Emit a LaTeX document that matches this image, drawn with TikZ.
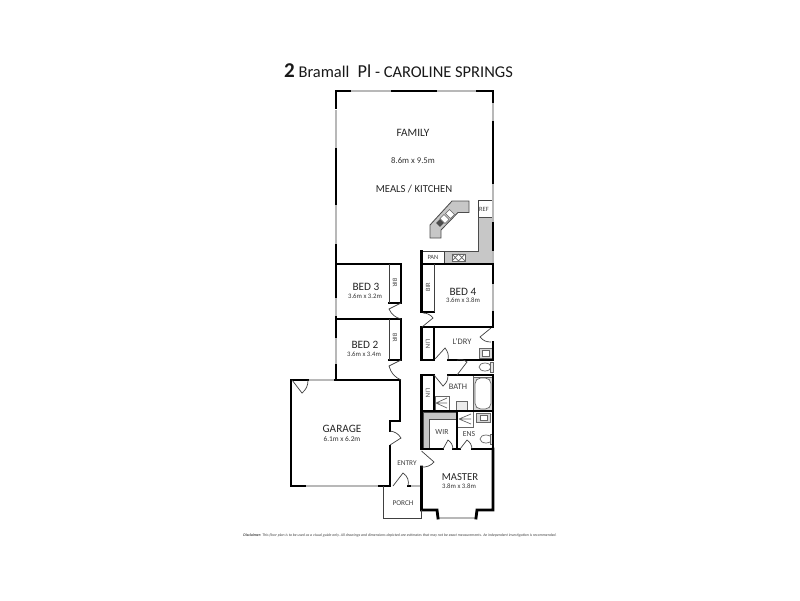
\documentclass[tikz,border=0pt]{standalone}
\usepackage{fontspec}
\setmainfont{Carlito}
\usepackage{tikz}
\usetikzlibrary{positioning}
\tikzset{
  wall/.style={draw=black,line width=2pt,line cap=rect,line join=miter},
  thinwall/.style={draw=black!75,line width=0.7pt},
  window/.style={draw=black!28,line width=1.8pt},
  doorleaf/.style={draw=black!75,line width=0.5pt},
  fitting/.style={draw=black!60,line width=0.5pt},
  bench/.style={draw=black!70,fill=black!22,line width=0.6pt},
  roomname/.style={inner sep=0pt,font=\fontsize{8}{8}\selectfont,text=black!85},
  roomsize/.style={inner sep=0pt,font=\fontsize{4.8}{4.8}\selectfont,text=black!80},
  smalllabel/.style={inner sep=0pt,font=\fontsize{4.6}{4.6}\selectfont,text=black!75}
}
\begin{document}
\begin{tikzpicture}[x=0.025cm,y=-0.025cm]
    \useasboundingbox (0,0) rectangle (800,600);

    % kitchen fittings
    \draw[bench] (444,251) -- (478,251) -- (478,217) -- (493,217) -- (493,263) -- (444,263) -- cycle;
    \draw[bench] (452,201) -- (469,201) -- (469,212.5) -- (458,212.5) -- (441,230) -- (441,238) -- (430,238) -- (430,225) -- cycle;
    \draw[thinwall] (478,217) -- (478,200) -- (493,200);
    \draw[thinwall] (421.5,251) -- (444,251) -- (444,263);
    \draw[fitting,fill=white] (452,254) rectangle (465,261);
    \draw[fitting] (452,254) -- (458.5,261) (458.5,254) -- (452,261) (458.5,254) -- (465,261) (465,254) -- (458.5,261);
    \node[draw=black!60,fill=white,rotate=-45,minimum width=5pt,minimum height=4pt,inner sep=0pt] at (450,214) (sinkone){};
    \node[draw=black!60,fill=white,rotate=-45,minimum width=5pt,minimum height=4pt,inner sep=0pt] at (444.5,219) (sinktwo){};
    \node[fill=black!70,rotate=-45,minimum width=4pt,minimum height=4pt,inner sep=0pt] at (440,223) (hob){};

    % wet areas
    \draw[fitting,fill=black!15] (479,348) rectangle (492,358);
    \draw[fitting,fill=white] (482,350) rectangle (489,356);
    \draw[fitting,fill=black!15] (473,377) rectangle (493,410);
    \draw[fitting,fill=white,rounded corners=4pt] (475,378) rectangle (491,409);
    \draw[fitting] (435,396) rectangle (449,410);
    \draw[fitting] (436,403) -- (447,398) (436,403) -- (447,403) (436,403) -- (447,408);
    \draw[fitting,fill=black!8] (456,401) rectangle (467,410);
    \draw[fitting] (457,411) rectangle (473,427);
    \draw[fitting] (459,419) -- (471,414) (459,419) -- (471,419) (459,419) -- (471,424);
    \draw[fitting,fill=black!15] (476,413) rectangle (490,422);
    \draw[fitting,fill=white] (480,415) rectangle (487,420);
    \draw[fitting] (473,375) -- (473,427);
    \draw[fitting] (485,367) ellipse (6 and 4);
    \draw[fitting,fill=black!10] (490.5,362) rectangle (493,372);
    \draw[fitting] (486,439) ellipse (6 and 4);
    \draw[fitting,fill=black!10] (490.5,434) rectangle (493,444);
    \draw[bench] (423,412) -- (456,412) -- (456,419) -- (429,419) -- (429,449) -- (423,449) -- cycle;

    % windows
    \draw[window] (350,91) -- (392,91);
    \draw[window] (436,91) -- (477,91);
    \draw[window] (336,149) -- (336,110);
    \draw[window] (336,204) -- (336,245);
    \draw[window] (336,297) -- (336,317);
    \draw[window] (336,337) -- (336,365);
    \draw[window] (493,102) -- (493,122);
    \draw[window] (493,183) -- (493,223);
    \draw[window] (493,250) -- (493,264);
    \draw[window] (493,283) -- (493,312);
    \draw[window] (308,380) -- (335,380);
    \draw[window] (305,486) -- (379,486);
    \draw[window] (410,486) -- (420,486);
    \draw[window] (439,518) -- (475,518);

    % walls
    \draw[wall] (350,91) -- (336,91) -- (336,108);
    \draw[wall] (392,91) -- (436,91);
    \draw[wall] (477,91) -- (493,91) -- (493,102);
    \draw[wall] (336,149) -- (336,204);
    \draw[wall] (336,245) -- (336,297);
    \draw[wall] (336,317) -- (336,337);
    \draw[wall] (336,365) -- (336,380);
    \draw[wall] (493,122) -- (493,183);
    \draw[wall] (493,223) -- (493,250);
    \draw[wall] (336,264) -- (401,264) -- (401,303) -- (389,303);
    \draw[wall] (336,319) -- (401,319) -- (401,360) -- (389,360);
    \draw[thinwall] (389,264) -- (389,303);
    \draw[thinwall] (389,319) -- (389,360);
    \draw[wall] (434,312) -- (421.5,312) -- (421.5,251);
    \draw[wall] (421.5,264) -- (493,264) -- (493,283);
    \draw[thinwall] (434,264) -- (434,312);
    \draw[wall] (493,312) -- (493,327) -- (421.5,327) -- (421.5,360) -- (434,360) -- (434,327);
    \draw[wall] (493,342) -- (493,360) -- (448,360);
    \draw[wall] (448,375) -- (493,375) -- (493,411);
    \draw[wall] (434,375) -- (421.5,375) -- (421.5,449) -- (443,449);
    \draw[wall] (434,375) -- (434,411);
    \draw[wall] (421.5,411) -- (493,411) -- (493,449) -- (472,449);
    \draw[wall] (457,411) -- (457,449);
    \draw[wall] (453,449) -- (460,449);
    \draw[wall] (493,449) -- (493,510) -- (477,510) -- (476,518);
    \draw[wall] (421.5,467) -- (421.5,510) -- (437,510) -- (438,518);
    \draw[wall] (291,380) -- (308,380);
    \draw[wall] (291,380) -- (291,486) -- (305,486);
    \draw[wall] (335,380) -- (400,380) -- (400,421) -- (390,421) -- (390,431);
    \draw[wall] (390,446) -- (390,486) -- (379,486);
    \draw[wall] (408,486) -- (410,486);
    \draw[thinwall] (383,486) -- (383,518) -- (421.5,518) -- (421.5,510);

    % doors
    \draw[doorleaf] (292,380) -- (302,393) to[bend right=25] (308,380);
    \draw[doorleaf] (401,303) -- (389,309) to[bend right=25] (401,319);
    \draw[doorleaf] (401,360) -- (389,366) to[bend right=25] (401,380);
    \draw[doorleaf] (390,445) -- (401,438) to[bend right=25] (390,431);
    \draw[doorleaf] (393,486) -- (403,473) to[bend left=35] (408,486);
    \draw[doorleaf] (422,327) -- (433,318) to[bend right=25] (423,313);
    \draw[doorleaf] (491,328) -- (480,337) to[bend right=25] (491,342);
    \draw[doorleaf] (435,359) -- (445,348) to[bend left=25] (448,360);
    \draw[doorleaf] (434,375) -- (443,386) to[bend right=25] (448,375);
    \draw[doorleaf] (457,375) -- (467,362) to[bend right=25] (457,360);
    \draw[doorleaf] (443,449) -- (448,440) to[bend left=25] (453,449);
    \draw[doorleaf] (460,449) -- (467,440) to[bend left=25] (472,449);
    \draw[doorleaf] (421.5,451) -- (434,462) to[bend left=25] (421.5,467);

    % labels
    \node[inner sep=0pt,font=\fontsize{11.7}{11.7}\selectfont,text=black!90] at (398.5,71) (title){{\fontsize{15}{15}\selectfont\bfseries 2} Bramall\; {\fontsize{13}{13}\selectfont Pl} - CAROLINE SPRINGS};
    \node[roomname] at (413,133) (family){FAMILY};
    \node[roomsize,font=\fontsize{6.2}{6.2}\selectfont] at (413,161) (familysize){8.6m x 9.5m};
    \node[roomname,font=\fontsize{7.6}{7.6}\selectfont] at (414,189) (meals){MEALS / KITCHEN};
    \node[smalllabel] at (484,209) (ref){REF};
    \node[smalllabel] at (433,257) (pan){PAN};
    \node[roomname] at (366,287) (bedthree){BED 3};
    \node[roomsize] at (365,296) (bedthreesize){3.6m x 3.2m};
    \node[smalllabel,rotate=-90] at (395,283) (birthree){BIR};
    \node[roomname] at (365,345) (bedtwo){BED 2};
    \node[roomsize] at (364,354) (bedtwosize){3.6m x 3.4m};
    \node[smalllabel,rotate=-90] at (395,338) (birtwo){BIR};
    \node[roomname] at (463,292) (bedfour){BED 4};
    \node[roomsize] at (463,300) (bedfoursize){3.6m x 3.8m};
    \node[smalllabel,rotate=90] at (428,287) (birfour){BIR};
    \node[smalllabel,font=\fontsize{6}{6}\selectfont] at (462,342) (ldry){L'DRY};
    \node[smalllabel,rotate=-90] at (428,344) (linone){LIN};
    \node[smalllabel,font=\fontsize{6}{6}\selectfont] at (458,387) (bath){BATH};
    \node[smalllabel,rotate=-90] at (428,393) (lintwo){LIN};
    \node[roomname] at (342,429) (garage){GARAGE};
    \node[roomsize,font=\fontsize{5.2}{5.2}\selectfont] at (342,439) (garagesize){6.1m x 6.2m};
    \node[smalllabel,font=\fontsize{5.5}{5.5}\selectfont] at (442,432) (wir){WIR};
    \node[smalllabel,font=\fontsize{5.5}{5.5}\selectfont] at (469,434) (ens){ENS};
    \node[smalllabel,font=\fontsize{5.2}{5.2}\selectfont] at (407,463) (entry){ENTRY};
    \node[roomname,font=\fontsize{7.6}{7.6}\selectfont] at (460,477) (master){MASTER};
    \node[roomsize] at (459,486) (mastersize){3.8m x 3.8m};
    \node[smalllabel,font=\fontsize{5.2}{5.2}\selectfont] at (403,503) (porch){PORCH};
    \node[inner sep=0pt,font=\fontsize{2.75}{2.75}\selectfont\itshape,text=black!75] at (400,535) (disclaimer){\textbf{Disclaimer:} This floor plan is to be used as a visual guide only. All drawings and dimensions depicted are estimates that may not be exact measurements. An independent investigation is recommended.};
\end{tikzpicture}
\end{document}
